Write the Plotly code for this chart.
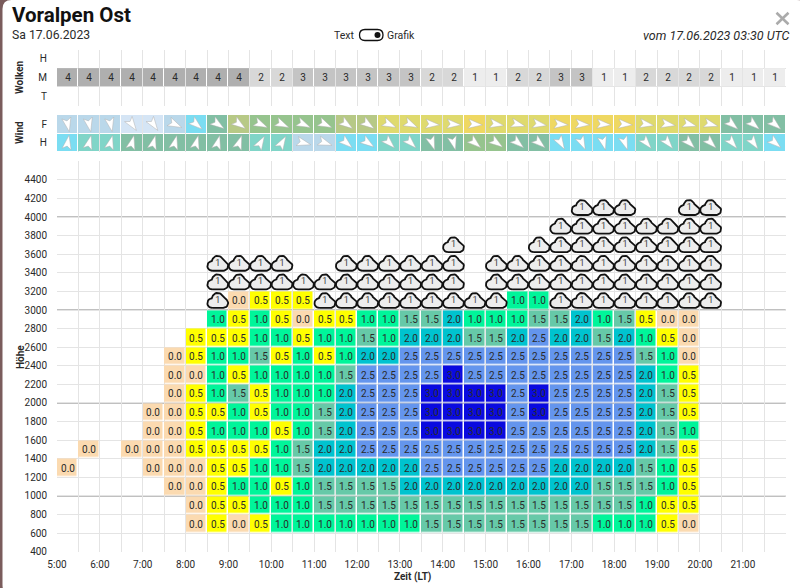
import numpy as np
import plotly.graph_objects as go

W, H = 800, 588

HOUR_TICKS = list(range(5, 22))
HOUR_LABELS = [f"{h}:00" for h in HOUR_TICKS]
SLOTS = [5.25 + i * 0.5 for i in range(34)]
HEIGHT_TICKS = list(range(400, 4600, 200))
HEIGHT_ROWS = [700, 900, 1100, 1300, 1500, 1700, 1900, 2100, 2300, 2500, 2700, 2900, 3100]
STRONG_LEVELS = [1000, 2000, 3000, 4000]

# Wolken: nur mittlere Schicht belegt
CLOUD_M = [4, 4, 4, 4, 4, 4, 4, 4, 4, 2, 2, 3, 3, 3, 3, 3, 3, 2, 2, 1, 1, 2, 2, 3, 3, 1, 1, 2, 2, 2, 2, 1, 1, 1]

# Wind: Klasse (Farbe) und Richtung in Grad
WIND_F_CLASS = [1, 1, 1, 0, 0, 1, 2, 4, 6, 5, 5, 5, 5, 6, 6, 7, 7, 7, 7, 8, 7, 7, 7, 8, 8, 8, 8, 7, 7, 7, 7, 4, 4, 4]
WIND_H_CLASS = [2, 3, 3, 4, 4, 4, 4, 4, 4, 3, 3, 1, 1, 2, 2, 3, 3, 4, 4, 5, 5, 4, 4, 2, 2, 2, 2, 3, 3, 4, 4, 3, 3, 2]
WIND_F_DIR = [168, 168, 168, 145, 145, 115, 130, 125, 125, 115, 115, 115, 115, 125, 125, 115, 115, 95, 95, 95, 100, 105, 100, 95, 95, 95, 95, 100, 100, 105, 105, 130, 130, 130]
WIND_H_DIR = [10, 15, 15, 15, 15, 15, 15, 15, 20, 30, 30, 105, 110, 130, 125, 135, 135, 160, 165, 130, 125, 130, 130, 150, 155, 165, 160, 140, 140, 135, 135, 140, 145, 130]

# Thermik je Hoehenband
THERMIK_600 = [None] * 6 + [0.0, 0.5, 0.0, 0.5, 1.0, 1.0, 1.0, 1.0, 1.0, 1.0, 1.0, 1.5, 1.5, 1.5, 1.5, 1.5, 1.5, 1.5, 1.5, 1.0, 1.0, 1.0, 0.5, 0.0]
THERMIK_800 = [None] * 6 + [0.0, 0.5, 0.5, 1.0, 1.0, 1.0, 1.5, 1.5, 1.5, 1.5, 1.5, 1.5, 1.5, 1.5, 1.5, 1.5, 1.5, 1.5, 1.5, 1.5, 1.5, 1.0, 0.5, 0.5]
THERMIK_1000 = [None] * 5 + [0.0, 0.0, 0.5, 1.0, 1.0, 0.5, 1.0, 1.5, 1.5, 1.5, 1.5, 2.0, 2.0, 2.0, 2.0, 2.0, 2.0, 2.0, 2.0, 2.0, 1.5, 1.5, 1.5, 1.0, 0.5]
THERMIK_1200 = [0.0, None, None, None, 0.0, 0.0, 0.0, 0.5, 0.5, 1.0, 1.0, 1.5, 2.0, 2.0, 2.0, 2.0, 2.0, 2.5, 2.5, 2.5, 2.5, 2.5, 2.5, 2.0, 2.0, 2.0, 2.0, 1.5, 1.0, 0.5]
THERMIK_1400 = [None, 0.0, None, 0.0, 0.0, 0.0, 0.5, 0.5, 0.5, 0.5, 1.0, 1.5, 2.0, 2.0, 2.5, 2.5, 2.5, 2.5, 2.5, 2.5, 2.5, 2.5, 2.5, 2.5, 2.5, 2.5, 2.5, 2.0, 1.5, 0.5]
THERMIK_1600 = [None] * 4 + [0.0, 0.0, 0.5, 1.0, 1.0, 1.0, 0.5, 1.0, 1.5, 2.0, 2.5, 2.5, 2.5, 3.0, 3.0, 3.0, 3.0, 2.5, 2.5, 2.5, 2.5, 2.5, 2.5, 2.0, 1.5, 1.0]
THERMIK_1800 = [None] * 4 + [0.0, 0.0, 0.5, 0.5, 1.0, 0.5, 1.0, 1.0, 1.5, 2.0, 2.5, 2.5, 2.5, 3.0, 3.0, 3.0, 3.0, 2.5, 3.0, 2.5, 2.5, 2.5, 2.5, 2.0, 1.5, 0.5]
THERMIK_2000 = [None] * 5 + [0.0, 0.5, 1.0, 1.5, 0.5, 1.0, 1.0, 1.0, 2.0, 2.5, 2.5, 2.5, 3.0, 3.0, 3.0, 3.0, 2.5, 3.0, 2.5, 2.5, 2.5, 2.5, 2.0, 1.5, 0.5]
THERMIK_2200 = [None] * 5 + [0.0, 0.0, 1.0, 0.5, 1.0, 1.0, 1.0, 1.0, 1.5, 2.5, 2.5, 2.5, 2.5, 3.0, 2.5, 2.5, 2.5, 2.5, 2.5, 2.5, 2.5, 2.5, 2.0, 1.0, 0.5]
THERMIK_2400 = [None] * 5 + [0.0, 0.5, 1.0, 1.0, 1.5, 0.5, 1.0, 0.5, 1.0, 2.0, 2.0, 2.5, 2.5, 2.5, 2.5, 2.5, 2.5, 2.5, 2.5, 2.5, 2.5, 2.5, 1.5, 1.0, 0.0]
THERMIK_2600 = [None] * 6 + [0.5, 0.5, 0.5, 1.0, 1.0, 0.5, 1.0, 1.0, 1.5, 1.0, 2.0, 2.0, 2.0, 1.5, 1.5, 2.0, 2.5, 2.0, 2.0, 1.5, 2.0, 1.0, 0.5, 0.0]
THERMIK_2800 = [None] * 7 + [1.0, 0.5, 1.0, 0.5, 0.0, 0.5, 0.5, 1.0, 1.0, 1.5, 1.5, 2.0, 1.0, 1.0, 1.0, 1.5, 1.5, 2.0, 1.0, 1.5, 0.5, 0.0, 0.0]
THERMIK_3000 = [None] * 8 + [0.0, 0.5, 0.5, 0.5] + [None] * 9 + [1.0, 1.0]

# Wolkensymbole: Spalten je Hoehenband
CUMULUS_3100 = [7, 12, 13, 14, 15, 16, 17, 18, 19, 20, 23, 24, 25, 26, 27, 28, 29, 30]
CUMULUS_3300 = [7, 8, 9, 10, 11, 12, 13, 14, 15, 16, 17, 18, 20, 21, 22, 23, 24, 25, 26, 27, 28, 29, 30]
CUMULUS_3500 = [7, 8, 9, 10, 13, 14, 15, 16, 17, 18, 20, 21, 22, 23, 24, 25, 26, 27, 28, 29, 30]
CUMULUS_3700 = [18, 22, 23, 24, 25, 26, 27, 28, 29, 30]
CUMULUS_3900 = [23, 24, 25, 26, 27, 28, 29, 30]
CUMULUS_4100 = [24, 25, 26, 29, 30]

THERMIK_COLORS = ["#FBDAB0", "#FFFF00", "#00F59A", "#66C9A8", "#00C3CF", "#6495ED", "#0A0AE0"]
CLOUD_COLORS = ["#EDEDED", "#D8D8D8", "#C4C4C4", "#AFAFAF"]
WIND_COLORS = ["#D5E5F5", "#BAD8EA", "#7BDDF2", "#80D5C8", "#82BFA4", "#96C48E", "#B7C986", "#DFDA6E", "#EFD862"]

GRID = "#E4E4E4"
TEXT = "#2A2A2A"
FONT = "Roboto"

# Plotbereiche in Pixeln
X0, X1 = 57, 785.7
MAIN_TOP, MAIN_BOTTOM = 161.3, 551.7
CLOUD_TOP, CLOUD_BOTTOM = 49.5, 105.5
WIND_TOP, WIND_BOTTOM = 115, 152
PX_X = 17 / (X1 - X0)
PX_Y = 4200 / (MAIN_BOTTOM - MAIN_TOP)
PX_WIND = 2 / (WIND_BOTTOM - WIND_TOP)


def px(x):
  return x / W


def py(y):
  return 1 - y / H


def scale(colors):
  return [[i / (len(colors) - 1), c] for i, c in enumerate(colors)]


def pad(row):
  return row + [None] * (34 - len(row))


# Wolkenumriss um den Mittelpunkt, Pixel
def cloud_outline():
  pts = []
  for cx, cy, r, a0, a1 in [(-5.6, -2.4, 4.8, 270, 95), (-0.2, 2.4, 5.4, 175, 15), (5.6, -2.4, 4.8, 70, -90)]:
    t = np.radians(np.linspace(a0, a1, 14))
    pts += list(zip(cx + r * np.cos(t), cy + r * np.sin(t)))
  pts.append(pts[0])
  return pts


def rounded(x0, y0, x1, y1, r):
  a, b, c, d = px(x0), py(y0), px(x1), py(y1)
  rx, ry = r / W, r / H
  return (f"M{a + rx},{b} L{c - rx},{b} Q{c},{b} {c},{b - ry} L{c},{d + ry} Q{c},{d} {c - rx},{d} "
          f"L{a + rx},{d} Q{a},{d} {a},{d + ry} L{a},{b - ry} Q{a},{b} {a + rx},{b} Z")


fig = go.Figure()

# Wolkenband
fig.add_trace(go.Heatmap(
  x=SLOTS, y=[1], z=[CLOUD_M], text=[[str(v) for v in CLOUD_M]], texttemplate="%{text}",
  textfont=dict(size=10, color=TEXT, family=FONT), colorscale=scale(CLOUD_COLORS), zmin=1, zmax=4,
  showscale=False, xgap=1, ygap=1, hoverinfo="skip", xaxis="x2", yaxis="y2"))

# Windband
fig.add_trace(go.Heatmap(
  x=SLOTS, y=[0, 1], z=[WIND_H_CLASS, WIND_F_CLASS], colorscale=scale(WIND_COLORS), zmin=0, zmax=8,
  showscale=False, xgap=1, ygap=1, hoverinfo="skip", xaxis="x3", yaxis="y3"))

dart = [(0, 7.6), (4.6, -6.4), (0, -3.4), (-4.6, -6.4), (0, 7.6)]
wind_x, wind_y = [], []
for row_y, dirs in [(0, WIND_H_DIR), (1, WIND_F_DIR)]:
  for slot, deg in zip(SLOTS, dirs):
    a = np.radians(deg)
    for dx, dy in dart:
      wind_x.append(slot + (dx * np.cos(a) + dy * np.sin(a)) * PX_X)
      wind_y.append(row_y + (-dx * np.sin(a) + dy * np.cos(a)) * PX_WIND)
    wind_x.append(None)
    wind_y.append(None)
fig.add_trace(go.Scatter(
  x=wind_x, y=wind_y, mode="lines", fill="toself", fillcolor="white",
  line=dict(color="#B0B0B0", width=0.5), hoverinfo="skip", xaxis="x3", yaxis="y3"))

# Thermik
thermik_rows = [pad(r) for r in [THERMIK_600, THERMIK_800, THERMIK_1000, THERMIK_1200, THERMIK_1400,
                                 THERMIK_1600, THERMIK_1800, THERMIK_2000, THERMIK_2200, THERMIK_2400,
                                 THERMIK_2600, THERMIK_2800, THERMIK_3000]]
fig.add_trace(go.Heatmap(
  x=SLOTS, y=HEIGHT_ROWS, z=thermik_rows,
  text=[["" if v is None else f"{v:.1f}" for v in r] for r in thermik_rows], texttemplate="%{text}",
  textfont=dict(size=10, color=TEXT, family=FONT), colorscale=scale(THERMIK_COLORS), zmin=0, zmax=3,
  showscale=False, xgap=1.5, ygap=1.5, hoverongaps=False, hoverinfo="skip"))

# Wolkensymbole
outline = cloud_outline()
cloud_x, cloud_y, label_x, label_y = [], [], [], []
for level, cols in [(3100, CUMULUS_3100), (3300, CUMULUS_3300), (3500, CUMULUS_3500),
                    (3700, CUMULUS_3700), (3900, CUMULUS_3900), (4100, CUMULUS_4100)]:
  for c in cols:
    for dx, dy in outline:
      cloud_x.append(SLOTS[c] + dx * PX_X)
      cloud_y.append(level + dy * PX_Y)
    cloud_x.append(None)
    cloud_y.append(None)
    label_x.append(SLOTS[c])
    label_y.append(level)
fig.add_trace(go.Scatter(
  x=cloud_x, y=cloud_y, mode="lines", fill="toself", fillcolor="#EDEDED",
  line=dict(color="#111111", width=1.8), hoverinfo="skip"))
fig.add_trace(go.Scatter(
  x=label_x, y=label_y, mode="text", text=["1"] * len(label_x),
  textfont=dict(size=9, color="#444444", family=FONT), hoverinfo="skip"))

shapes = [dict(type="path", xref="paper", yref="paper", layer="below", line_width=0, fillcolor="white",
               path=rounded(2.5, 0, 806, 594, 9))]
for level in STRONG_LEVELS:
  shapes.append(dict(type="line", xref="paper", yref="y", x0=px(X0), x1=px(X1), y0=level, y1=level,
                     layer="below", line=dict(color="#ABABAB", width=1.4)))
# Umschalter und Schliessen
shapes.append(dict(type="path", xref="paper", yref="paper", path=rounded(359.5, 29.5, 383, 40.5, 5.5),
                   line=dict(color="#111111", width=1.3), fillcolor="white"))
shapes.append(dict(type="circle", xref="paper", yref="paper", x0=px(374.5), x1=px(380.5), y0=py(38), y1=py(32),
                   line_width=0, fillcolor="#111111"))
for a, b in [(12.7, 24.3), (24.3, 12.7)]:
  shapes.append(dict(type="line", xref="paper", yref="paper", x0=px(776.5), x1=px(788.5), y0=py(a), y1=py(b),
                     line=dict(color="#ABABAB", width=2.6)))


def note(x, y, text, size=10, anchor="left", weight=None, angle=0, color=TEXT, italic=False):
  if weight:
    text = f"<b>{text}</b>"
  if italic:
    text = f"<i>{text}</i>"
  return dict(x=px(x), y=py(y), xref="paper", yref="paper", text=text, showarrow=False, xanchor=anchor,
              yanchor="middle", textangle=angle, font=dict(size=size, color=color, family=FONT))


annotations = [
  note(10, 15, "Voralpen Ost", size=20.5, weight=True, color="#111111"),
  note(10, 35, "Sa 17.06.2023", size=12.2),
  note(357, 35, "Text", size=10.5, anchor="right"),
  note(385, 35, "Grafik", size=10.5),
  note(792, 35, "vom 17.06.2023 03:30 UTC", size=12.5, anchor="right", italic=True),
  note(20, 77, "Wolken", anchor="center", weight=True, angle=-90),
  note(20, 133, "Wind", anchor="center", weight=True, angle=-90),
  note(20, 357, "Höhe", anchor="center", weight=True, angle=-90),
  note(412, 577, "Zeit (LT)", anchor="center", weight=True),
]

x_common = dict(range=[5, 22], showline=False, zeroline=False, showgrid=True, gridcolor=GRID, gridwidth=1,
                tickvals=HOUR_TICKS, minor=dict(tickvals=[t + 0.5 for t in HOUR_TICKS], showgrid=True,
                                                gridcolor=GRID, gridwidth=1))
y_band = dict(showline=False, zeroline=False, showgrid=False, ticklabelstandoff=9, ticks="",
              tickfont=dict(size=10, color=TEXT, family=FONT))

fig.update_layout(
  width=W, height=H, margin=dict(l=0, r=0, t=0, b=0, pad=0, autoexpand=False), autosize=False,
  paper_bgcolor="#7A5C5C", plot_bgcolor="white", showlegend=False, shapes=shapes, annotations=annotations,
  font=dict(family=FONT, color=TEXT),
  xaxis=dict(domain=[px(X0), px(X1)], ticktext=HOUR_LABELS, anchor="y", ticklabelstandoff=5,
             tickfont=dict(size=10, color=TEXT, family=FONT), **x_common),
  yaxis=dict(domain=[py(MAIN_BOTTOM), py(MAIN_TOP)], range=[400, 4600], tickvals=HEIGHT_TICKS, ticklabelstandoff=9,
             showgrid=True, gridcolor=GRID, gridwidth=1, zeroline=False, showline=False,
             tickfont=dict(size=10, color=TEXT, family=FONT), anchor="x"),
  xaxis2=dict(domain=[px(X0), px(X1)], showticklabels=False, anchor="y2", **x_common),
  yaxis2=dict(domain=[py(CLOUD_BOTTOM), py(CLOUD_TOP)], range=[-0.5, 2.5], tickvals=[0, 1, 2],
              ticktext=["T", "M", "H"], anchor="x2",
              minor=dict(tickvals=[-0.5, 0.5, 1.5, 2.5], showgrid=True, gridcolor=GRID, gridwidth=1), **y_band),
  xaxis3=dict(domain=[px(X0), px(X1)], showticklabels=False, anchor="y3", **x_common),
  yaxis3=dict(domain=[py(WIND_BOTTOM), py(WIND_TOP)], range=[-0.5, 1.5], tickvals=[0, 1],
              ticktext=["H", "F"], anchor="x3", **y_band),
)

fig.write_html("out.html", config={"displayModeBar": False},
               post_script="document.body.style.margin='0';document.documentElement.style.overflow='hidden';")
